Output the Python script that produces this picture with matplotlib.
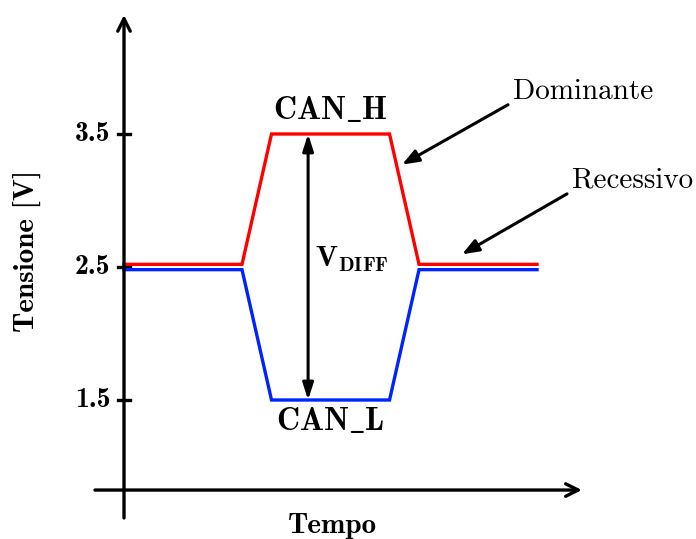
import matplotlib
matplotlib.use("Agg")
import matplotlib.pyplot as plt

plt.rcParams['mathtext.fontset'] = 'cm'

# time breakpoints (arbitrary units) and voltage levels
t_points = [0.0, 1.0, 1.25, 2.25, 2.5, 3.5]
can_h = [2.52, 2.52, 3.5, 3.5, 2.52, 2.52]
can_l = [2.48, 2.48, 1.5, 1.5, 2.48, 2.48]
y_ticks = [1.5, 2.5, 3.5]
y_tick_labels = ["1.5", "2.5", "3.5"]

fig = plt.figure(figsize=(6.96, 5.39), dpi=100)
ax = fig.add_axes([0, 0, 1, 1])
ax.set_xlim(-1.0508, 4.847)
ax.set_ylim(0.4549, 4.5075)
ax.axis('off')

B = 'cmb10'
R = 'cmr10'

lw = 2.4
ax.plot(t_points, can_h, color='#ff0000', lw=lw, solid_joinstyle='miter', zorder=3)
ax.plot(t_points, can_l, color='#0022ff', lw=lw, solid_joinstyle='miter', zorder=3)

# axes arrows
arrow_kw = dict(arrowstyle='->,head_length=0.9,head_width=0.45', lw=2.4, color='black',
                shrinkA=0, shrinkB=0)
ax.annotate('', xy=(0, 4.395), xytext=(0, 0.613), arrowprops=arrow_kw)
ax.annotate('', xy=(3.88, 0.823), xytext=(-0.246, 0.823), arrowprops=arrow_kw)

# ticks
for v, lab in zip(y_ticks, y_tick_labels):
    ax.plot([-0.05, 0.05], [v, v], color='black', lw=2.4, zorder=2)
    ax.text(-0.115, v, lab, ha='right', va='center', fontsize=20, family=B)

# V_DIFF double arrow
ax.annotate('', xy=(1.56, 3.5), xytext=(1.56, 1.5),
            arrowprops=dict(arrowstyle='<|-|>,head_length=1.0,head_width=0.32', lw=2.2,
                            color='black', shrinkA=0, shrinkB=0))
ax.text(1.619, 2.5, r'$\mathbf{V_{DIFF}}$', ha='left', va='baseline', fontsize=21)

ax.text(1.75, 3.613, r'$\mathbf{CAN\_H}$', ha='center', va='baseline', fontsize=23)
ax.text(1.75, 1.274, r'$\mathbf{CAN\_L}$', ha='center', va='baseline', fontsize=23)

# annotation arrows
ann_kw = dict(arrowstyle='-|>,head_length=1.0,head_width=0.38', lw=2.2, color='black',
              shrinkA=0, shrinkB=0)
ax.annotate('', xy=(2.356, 3.27), xytext=(3.254, 3.72), arrowprops=ann_kw)
ax.annotate('', xy=(2.864, 2.595), xytext=(3.754, 3.05), arrowprops=ann_kw)
ax.text(3.297, 3.763, 'Dominante', ha='left', va='baseline', fontsize=21, family=R)
ax.text(3.797, 3.094, 'Recessivo', ha='left', va='baseline', fontsize=21, family=R)

# axis labels
ax.text(-0.82, 2.617, 'Tensione [V]', ha='center', va='center',
        rotation=90, fontsize=21, family=B)
ax.text(1.763, 0.5, 'Tempo', ha='center', va='baseline', fontsize=21, family=B)

fig.savefig('out.png', dpi=100)
